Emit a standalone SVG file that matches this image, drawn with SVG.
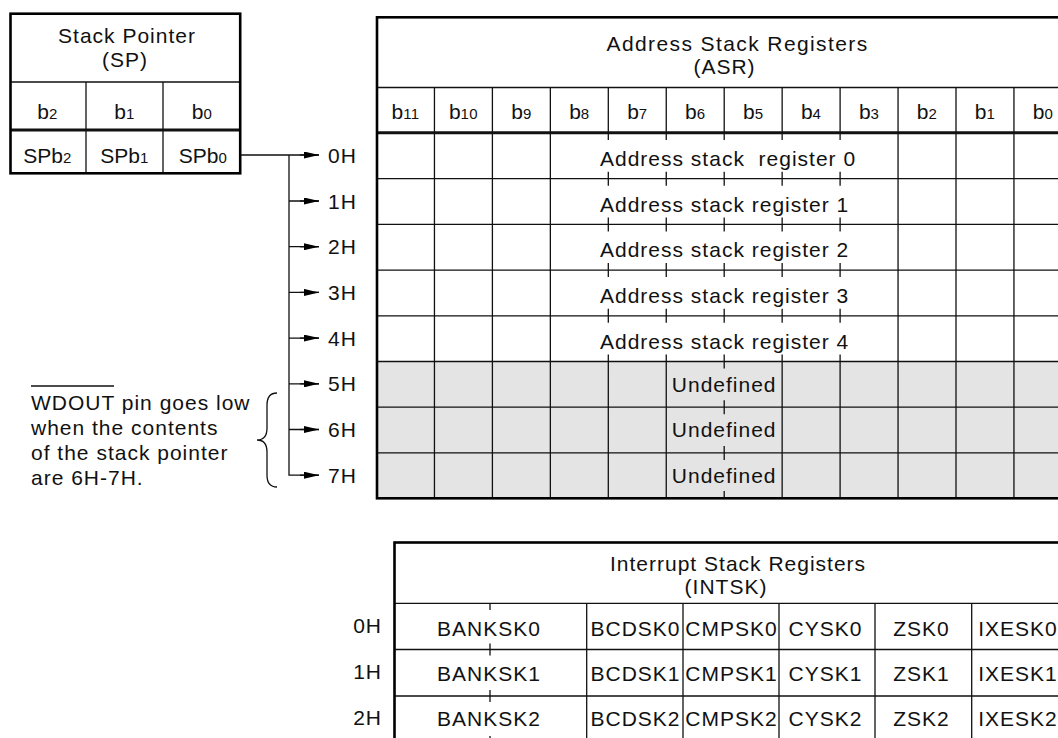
<svg xmlns="http://www.w3.org/2000/svg" width="1058" height="738" viewBox="0 0 1058 738">
<style>
text{font-family:"Liberation Sans",Arial,Helvetica,sans-serif;font-size:21px;fill:#111;letter-spacing:1px}
.c{text-anchor:middle}
.r{text-anchor:end}
.s{font-size:15px;letter-spacing:0.3px}
.bt{letter-spacing:0}
.ln{stroke:#111;stroke-width:1.3;fill:none}
.tk{stroke:#111;stroke-width:3;fill:none}
.ob{stroke:#000;stroke-width:2.6;fill:none}
</style>
<defs>
<marker id="ah" markerUnits="userSpaceOnUse" markerWidth="15" markerHeight="7" refX="15" refY="3.5" orient="auto">
<path d="M0,0 L15,3.5 L0,7 z" fill="#000"/>
</marker>
</defs>
<rect width="1058" height="738" fill="#fff"/>

<g id="sp">
<path class="ln" d="M10.5 82H240M86 82V173M163 82V173"/>
<path class="tk" d="M10.5 130H240"/>
<rect class="ob" x="10.5" y="13.7" width="229.7" height="159.6" stroke-width="3"/>
<text class="c" x="127" y="43">Stack Pointer</text>
<text class="c" x="125" y="67">(SP)</text>
<text class="c bt" x="47.5" y="119">b<tspan class="s">2</tspan></text>
<text class="c bt" x="124.5" y="119">b<tspan class="s">1</tspan></text>
<text class="c bt" x="202" y="119">b<tspan class="s">0</tspan></text>
<text class="c bt" x="47.5" y="163">SPb<tspan class="s">2</tspan></text>
<text class="c bt" x="124.5" y="163">SPb<tspan class="s">1</tspan></text>
<text class="c bt" x="203" y="163">SPb<tspan class="s">0</tspan></text>
</g>

<g id="asr">
<rect x="377" y="361.5" width="700" height="136.5" fill="#e4e4e4"/>
<path class="ln" d="M377 87.5H1077M377 178.7H1077M377 224.4H1077M377 270.1H1077M377 315.8H1077M377 361.5H1077M377 407.2H1077M377 452.9H1077"/>
<path class="ln" d="M434.45 87.5V498M492.4 87.5V498M550.35 87.5V498M898.05 87.5V498M956 87.5V498M1013.95 87.5V498"/>
<path class="ln" d="M608.3 87.5V133M666.25 87.5V133M724.2 87.5V133M782.15 87.5V133M840.1 87.5V133"/>
<path class="ln" d="M608.3 133V140M608.3 171.7V185.7M608.3 217.4V231.4M608.3 263.1V277.1M608.3 308.8V322.8M608.3 354.5V498
M666.25 133V140M666.25 171.7V185.7M666.25 217.4V231.4M666.25 263.1V277.1M666.25 308.8V322.8M666.25 354.5V498
M782.15 133V140M782.15 171.7V185.7M782.15 217.4V231.4M782.15 263.1V277.1M782.15 308.8V322.8M782.15 354.5V498
M840.1 133V140M840.1 171.7V185.7M840.1 217.4V231.4M840.1 263.1V277.1M840.1 308.8V322.8M840.1 354.5V498
M724.2 133V140M724.2 171.7V185.7M724.2 217.4V231.4M724.2 263.1V277.1M724.2 308.8V322.8M724.2 354.5V368.5M724.2 400.2V414.2M724.2 445.9V459.9M724.2 491V498"/>
<path class="tk" d="M377 132.7H1077"/>
<rect class="ob" x="377" y="17.3" width="720" height="481"/>
<text x="606.5" y="51" style="letter-spacing:1.4px">Address Stack Registers</text>
<text class="c" x="724.5" y="74">(ASR)</text>
<g class="bt">
<text class="c bt" x="405.5" y="119">b<tspan class="s">11</tspan></text>
<text class="c bt" x="463.4" y="119">b<tspan class="s">10</tspan></text>
<text class="c bt" x="521.4" y="119">b<tspan class="s">9</tspan></text>
<text class="c bt" x="579.3" y="119">b<tspan class="s">8</tspan></text>
<text class="c bt" x="637.3" y="119">b<tspan class="s">7</tspan></text>
<text class="c bt" x="695.2" y="119">b<tspan class="s">6</tspan></text>
<text class="c bt" x="753.2" y="119">b<tspan class="s">5</tspan></text>
<text class="c bt" x="811.1" y="119">b<tspan class="s">4</tspan></text>
<text class="c bt" x="869.1" y="119">b<tspan class="s">3</tspan></text>
<text class="c bt" x="927" y="119">b<tspan class="s">2</tspan></text>
<text class="c bt" x="985" y="119">b<tspan class="s">1</tspan></text>
<text class="c bt" x="1042.9" y="119">b<tspan class="s">0</tspan></text>
</g>
<text x="600" y="166" xml:space="preserve">Address stack  register 0</text>
<text x="600" y="211.5">Address stack register 1</text>
<text x="600" y="257.2">Address stack register 2</text>
<text x="600" y="303">Address stack register 3</text>
<text x="600" y="348.5">Address stack register 4</text>
<text class="c" x="724.2" y="391.5">Undefined</text>
<text class="c" x="724.2" y="437">Undefined</text>
<text class="c" x="724.2" y="482.5">Undefined</text>
</g>

<g id="connectors">
<path class="ln" d="M241 155H319M289 155V475.7M289 201H319M289 246.7H319M289 292.4H319M289 338.1H319M289 383.8H319M289 429.5H319M289 475.2H319"/>
<path class="ln" marker-end="url(#ah)" d="M300 155H319"/>
<path class="ln" marker-end="url(#ah)" d="M300 201H319"/>
<path class="ln" marker-end="url(#ah)" d="M300 246.7H319"/>
<path class="ln" marker-end="url(#ah)" d="M300 292.4H319"/>
<path class="ln" marker-end="url(#ah)" d="M300 338.1H319"/>
<path class="ln" marker-end="url(#ah)" d="M300 383.8H319"/>
<path class="ln" marker-end="url(#ah)" d="M300 429.5H319"/>
<path class="ln" marker-end="url(#ah)" d="M300 475.2H319"/>
</g>

<g id="addr-labels">
<text x="328" y="163">0H</text>
<text x="328" y="208.5">1H</text>
<text x="328" y="254.2">2H</text>
<text x="328" y="300">3H</text>
<text x="328" y="345.6">4H</text>
<text x="328" y="391.3">5H</text>
<text x="328" y="437">6H</text>
<text x="328" y="482.7">7H</text>
</g>

<g id="note">
<path class="ln" stroke="#555" d="M31 386H114"/>
<text x="31" y="410">WDOUT pin goes low</text>
<text x="31" y="435">when the contents</text>
<text x="31" y="459.5">of the stack pointer</text>
<text x="31" y="484.5">are 6H-7H.</text>
<path class="ln" stroke-width="1.1" d="M277 393C270 393 267 397 267 405V428C267 435 264 440 257 440C264 440 267 445 267 452V475C267 483 270 487 277 487"/>
</g>

<g id="intsk">
<path class="ln" d="M394.5 603.3H1080M394.5 649.5H1080M394.5 696H1080"/>
<path class="ln" d="M586.7 603.3V742M683 603.3V742M779 603.3V742M875 603.3V742M971.7 603.3V742"/>
<path class="ln" d="M490 603.3V610M490 643.5V655.5M490 690V702M490 736V742"/>
<rect class="ob" x="394.5" y="542.5" width="700" height="200"/>
<text x="610" y="571">Interrupt Stack Registers</text>
<text class="c" x="726" y="594">(INTSK)</text>
<text class="r" x="382" y="633">0H</text>
<text class="r" x="382" y="678.5">1H</text>
<text class="r" x="382" y="724.5">2H</text>
<text class="c" x="489" y="636">BANKSK0</text>
<text class="c" x="489" y="680.5">BANKSK1</text>
<text class="c" x="489" y="726">BANKSK2</text>
<text class="c" x="635.5" y="636">BCDSK0</text>
<text class="c" x="635.5" y="680.5">BCDSK1</text>
<text class="c" x="635.5" y="726">BCDSK2</text>
<text class="c" x="731.5" y="636">CMPSK0</text>
<text class="c" x="731.5" y="680.5">CMPSK1</text>
<text class="c" x="731.5" y="726">CMPSK2</text>
<text class="c" x="825.5" y="636">CYSK0</text>
<text class="c" x="825.5" y="680.5">CYSK1</text>
<text class="c" x="825.5" y="726">CYSK2</text>
<text class="c" x="921.5" y="636">ZSK0</text>
<text class="c" x="921.5" y="680.5">ZSK1</text>
<text class="c" x="921.5" y="726">ZSK2</text>
<text class="c" x="1018" y="636">IXESK0</text>
<text class="c" x="1018" y="680.5">IXESK1</text>
<text class="c" x="1018" y="726">IXESK2</text>
</g>
</svg>
